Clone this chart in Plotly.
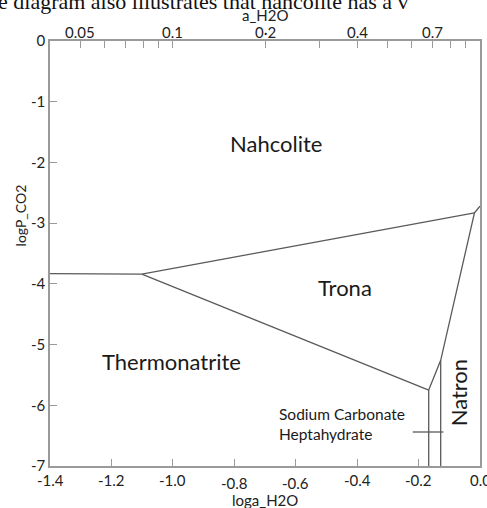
import math
import plotly.graph_objects as go

# ---- data (log a_H2O, log P_CO2) ----
nah_therm_x = [-1.4, -1.101]
nah_therm_y = [-3.83, -3.84]
nah_trona_x = [-1.101, -0.018]
nah_trona_y = [-3.84, -2.83]
trona_therm_x = [-1.101, -0.167]
trona_therm_y = [-3.84, -5.75]
trona_natron_x = [-0.167, -0.128, -0.018, 0.0]
trona_natron_y = [-5.75, -5.26, -2.83, -2.72]
therm_hepta_x = [-0.167, -0.167]
therm_hepta_y = [-5.75, -7.0]
hepta_natron_x = [-0.128, -0.128]
hepta_natron_y = [-5.26, -7.0]
leader_x = [-0.219, -0.119]
leader_y = [-6.44, -6.44]

x_ticks = [-1.4, -1.2, -1.0, -0.8, -0.6, -0.4, -0.2, 0.0]
x_ticklabels = ["-1.4", "-1.2", "-1.0", "-0.8", "-0.6", "-0.4", "-0.2", "0.0"]
x_label_drop = [0, 0, 0, 1, 1, 0, 0, 0]   # labels printed slightly lower in the original
y_ticks = [0, -1, -2, -3, -4, -5, -6, -7]
y_ticklabels = ["0", "-1", "-2", "-3", "-4", "-5", "-6", "-7"]
a_ticks = [0.05, 0.06, 0.07, 0.08, 0.09, 0.1, 0.2, 0.3, 0.4, 0.5, 0.6, 0.7, 0.8, 0.9, 1.0]
a_ticklabels = ["0.05", "", "", "", "", "0.1", "0·2", "", "0.4", "", "", "0.7", "", "", ""]

regions = [
    ("Nahcolite", -0.664, -1.68, 22, 0),
    ("Trona", -0.439, -4.06, 22, 0),
    ("Thermonatrite", -1.006, -5.28, 22, 0),
    ("Natron", -0.071, -5.80, 22, -90),
]
small_labels = [
    ("Sodium Carbonate", -0.662, -6.15),
    ("Heptahydrate", -0.662, -6.47),
]

FONT = "Lato"
LINE = "#5a5a5a"
AXC = "#9a9a9a"

fig = go.Figure()
segs = [
    (nah_therm_x, nah_therm_y), (nah_trona_x, nah_trona_y),
    (trona_therm_x, trona_therm_y), (trona_natron_x, trona_natron_y),
    (therm_hepta_x, therm_hepta_y), (hepta_natron_x, hepta_natron_y),
    (leader_x, leader_y),
]
for sx, sy in segs:
    fig.add_trace(go.Scatter(x=sx, y=sy, mode="lines",
                             line=dict(color=LINE, width=1.3),
                             showlegend=False, hoverinfo="skip", cliponaxis=False))

# dummy trace on top axis
fig.add_trace(go.Scatter(x=[-1.4, 0], y=[-7, 0], xaxis="x2", mode="markers",
                         marker=dict(opacity=0), showlegend=False, hoverinfo="skip"))

for t, x, y, s, ang in regions:
    fig.add_annotation(x=x, y=y, text=t, showarrow=False, textangle=ang,
                       font=dict(family=FONT, size=s, color="#1a1a1a"))
for t, x, y in small_labels:
    fig.add_annotation(x=x, y=y, text=t, showarrow=False, xanchor="left",
                       font=dict(family=FONT, size=15.5, color="#1a1a1a"))

# top-axis tick labels (a_H2O), placed on the x2 scale
for a, lab in zip(a_ticks, a_ticklabels):
    if lab:
        fig.add_annotation(xref="x2", yref="paper", x=math.log10(a), y=1.022,
                           yanchor="middle", text=lab, showarrow=False,
                           font=dict(family=FONT, size=15, color="#222"))

# bottom-axis tick labels, placed on the x scale
for v, lab, d in zip(x_ticks, x_ticklabels, x_label_drop):
    fig.add_annotation(xref="x", yref="paper", x=v, y=-0.033 - 0.007 * d,
                       yanchor="middle", text=lab, showarrow=False,
                       font=dict(family=FONT, size=15, color="#222"))

# axis titles
fig.add_annotation(xref="paper", yref="paper", x=0.5, y=-0.08, yanchor="middle",
                   text="loga_H2O", showarrow=False,
                   font=dict(family=FONT, size=15, color="#222"))
fig.add_annotation(xref="paper", yref="paper", x=0.5, y=1.06, yanchor="middle",
                   text="a_H2O", showarrow=False,
                   font=dict(family=FONT, size=15, color="#222"))
fig.add_annotation(xref="paper", yref="paper", x=-0.045, y=0.59, xanchor="right",
                   text="logP_CO2", showarrow=False, textangle=-90,
                   font=dict(family=FONT, size=14, color="#222"))

# partial text line from surrounding document, clipped at the top edge
fig.add_annotation(xref="paper", yref="paper", x=-0.125, y=1.093, xanchor="left",
                   yanchor="middle", text="e diagram also illustrates that nahcolite has a v",
                   showarrow=False,
                   font=dict(family="Liberation Serif", size=22, color="#111"))

axis_common = dict(showgrid=False, zeroline=False, showline=True, linecolor=AXC,
                   linewidth=1.5, ticks="inside", tickcolor=AXC, tickwidth=1.3,
                   ticklen=7, automargin=False, ticklabeloverflow="allow",
                   tickfont=dict(family=FONT, size=15, color="#222"))

fig.update_layout(
    width=487, height=508,
    margin=dict(l=50, r=7, t=41, b=42, autoexpand=False),
    paper_bgcolor="white", plot_bgcolor="white",
    xaxis=dict(range=[-1.4, 0], tickvals=x_ticks, showticklabels=False,
               **axis_common),
    xaxis2=dict(range=[-1.4, 0], overlaying="x", side="top",
                tickvals=[math.log10(a) for a in a_ticks], showticklabels=False,
                **axis_common),
    yaxis=dict(range=[-7, 0], tickvals=y_ticks, ticktext=y_ticklabels,
               mirror=True, **axis_common),
)

fig.write_html("out.html", config={"displayModeBar": False},
               post_script="document.body.style.margin='0';document.body.style.overflow='hidden';")
